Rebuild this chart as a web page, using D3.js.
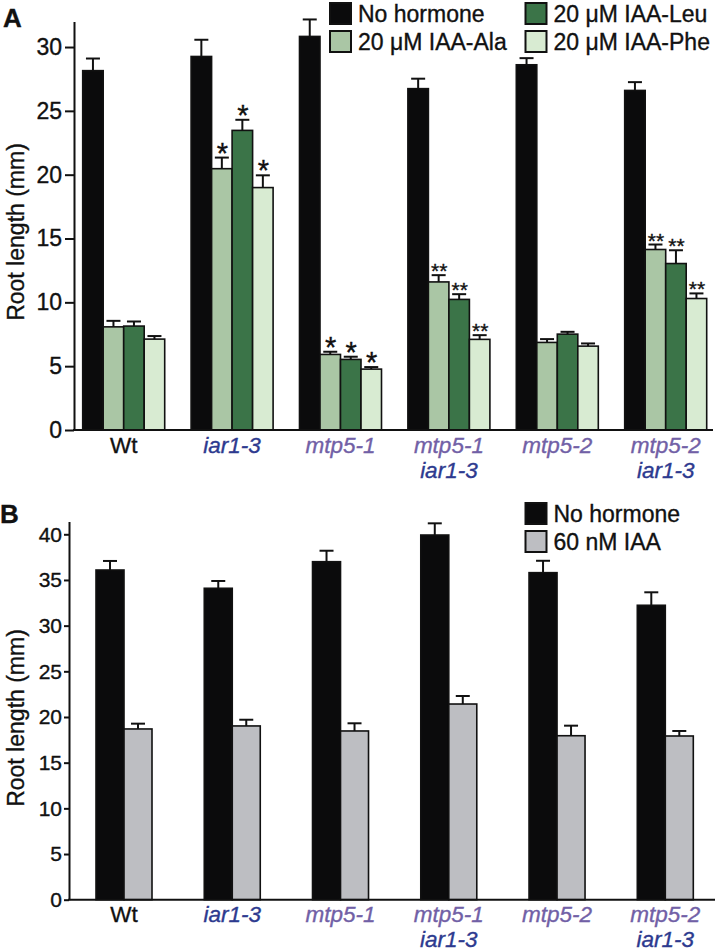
<!DOCTYPE html>
<html>
<head>
<meta charset="utf-8">
<script src="https://cdn.jsdelivr.net/npm/d3@7"></script>
<style>
  html, body { margin: 0; padding: 0; background: #fff; }
  svg { display: block; font-family: "Liberation Sans", Arial, sans-serif; }
  svg text { stroke-width: 0.35px; }
</style>
</head>
<body>
<svg id="chart" width="717" height="952"></svg>
<script>
// ---------- DATA ----------
const categories = ["Wt", "iar1-3", "mtp5-1", "mtp5-1 iar1-3", "mtp5-2", "mtp5-2 iar1-3"];
const categoryLines = [["Wt"], ["iar1-3"], ["mtp5-1"], ["mtp5-1", "iar1-3"], ["mtp5-2"], ["mtp5-2", "iar1-3"]];

// Panel A
const seriesA = ["No hormone", "20 μM IAA-Ala", "20 μM IAA-Leu", "20 μM IAA-Phe"];
const noHormoneA    = [28.15, 29.26, 30.83, 26.74, 28.61, 26.60];
const noHormoneAErr = [0.95, 1.31, 1.33, 0.78, 0.52, 0.65];
const alaA    = [8.08, 20.47, 5.92, 11.60, 6.86, 14.14];
const alaAErr = [0.47, 0.87, 0.21, 0.53, 0.26, 0.39];
const leuA    = [8.14, 23.47, 5.53, 10.23, 7.51, 13.04];
const leuAErr = [0.36, 0.83, 0.21, 0.41, 0.18, 1.04];
const pheA    = [7.12, 18.99, 4.77, 7.10, 6.57, 10.30];
const pheAErr = [0.24, 0.96, 0.16, 0.33, 0.21, 0.40];
const sigA    = ["", "*", "*", "**", "", "**"];   // applies to Ala, Leu, Phe
const ticksA  = [0, 5, 10, 15, 20, 25, 30];

// Panel B
const seriesB = ["No hormone", "60 nM IAA"];
const noHormoneB    = [36.09, 34.09, 37.00, 39.92, 35.80, 32.23];
const noHormoneBErr = [0.99, 0.80, 1.20, 1.28, 1.30, 1.42];
const iaaB    = [18.69, 19.02, 18.47, 21.42, 17.95, 17.92];
const iaaBErr = [0.58, 0.68, 0.84, 0.88, 1.10, 0.55];
const ticksB  = [0, 5, 10, 15, 20, 25, 30, 35, 40];

// ---------- STYLE ----------
const colorsA = ["#0b0b0c", "#aac6a5", "#3b7448", "#d8ebd2"];
const colorsB = ["#0b0b0c", "#bdbec2"];
const blue = "#2d3a8f", purple = "#7160a6";
function labelColor(t) { return t.startsWith("mtp5") ? purple : (t.startsWith("iar") ? blue : "#111"); }

const svg = d3.select("#chart");

function panel(opts) {
  const g = svg.append("g");
  const y = d3.scaleLinear().domain([0, opts.yMax]).range([opts.y0, opts.yTop]);
  const x = d3.scaleBand().domain(categories).range(opts.xBars).paddingInner(opts.padInner).paddingOuter(0);
  const xs = d3.scaleBand().domain(opts.series).range([0, x.bandwidth()]).padding(0);

  // y axis
  const ay = g.append("g").attr("transform", `translate(${opts.axisX},0)`)
    .call(d3.axisLeft(y).tickValues(opts.ticks).tickSize(opts.tickSize).tickPadding(opts.tickPad).tickSizeOuter(0));
  ay.select(".domain").attr("stroke", "#111").attr("stroke-width", 2);
  ay.selectAll(".tick line").attr("stroke", "#111").attr("stroke-width", 2);
  ay.selectAll(".tick text").attr("font-size", opts.tickFont).attr("fill", "#111").attr("stroke", "#111")
    .attr("font-family", "Liberation Sans, Arial, sans-serif");

  // bars
  opts.series.forEach((s, si) => {
    const vals = opts.values[si], errs = opts.errors[si];
    const bg = g.append("g");
    bg.selectAll("rect").data(categories).join("rect")
      .attr("x", c => x(c) + xs(s))
      .attr("y", (c, i) => y(vals[i]))
      .attr("width", xs.bandwidth())
      .attr("height", (c, i) => y(0) - y(vals[i]))
      .attr("fill", opts.colors[si])
      .attr("stroke", "#111").attr("stroke-width", 1.6);
    // error bars
    const eb = g.append("g").attr("stroke", "#111").attr("stroke-width", 2);
    categories.forEach((c, i) => {
      const cx = x(c) + xs(s) + xs.bandwidth() / 2;
      eb.append("line").attr("x1", cx).attr("x2", cx).attr("y1", y(vals[i])).attr("y2", y(vals[i] + errs[i]));
      eb.append("line").attr("x1", cx - opts.cap).attr("x2", cx + opts.cap)
        .attr("y1", y(vals[i] + errs[i])).attr("y2", y(vals[i] + errs[i]));
      if (opts.sig && si > 0 && opts.sig[i]) {
        const two = opts.sig[i].length > 1;
        g.append("text").attr("x", cx + 0.5).attr("y", y(vals[i] + errs[i]) + (two ? 3 : 5))
          .attr("text-anchor", "middle").attr("font-size", two ? 21 : 29)
          .attr("fill", "#111").attr("stroke", "#111").text(opts.sig[i]);
      }
    });
  });

  // x axis line
  g.append("line").attr("x1", opts.axisX - 1).attr("x2", opts.xEnd).attr("y1", y(0)).attr("y2", y(0))
    .attr("stroke", "#111").attr("stroke-width", 2);

  // category labels
  categories.forEach((c, i) => {
    const cx = x(c) + x.bandwidth() / 2;
    categoryLines[i].forEach((t, li) => {
      g.append("text").attr("x", cx).attr("y", opts.labelY + li * 25)
        .attr("text-anchor", "middle").attr("font-size", 22.5)
        .attr("font-style", t === "Wt" ? "normal" : "italic")
        .attr("fill", labelColor(t)).attr("stroke", labelColor(t)).text(t);
    });
  });

  // axis title
  g.append("text").attr("transform", `translate(23.5,${opts.titleY}) rotate(-90)`)
    .attr("text-anchor", "middle").attr("font-size", 23).attr("fill", "#111").attr("stroke", "#111")
    .text("Root length (mm)");

  // panel letter
  g.append("text").attr("x", opts.letterX).attr("y", opts.letterY).attr("font-size", 26)
    .attr("font-weight", "bold").attr("fill", "#111").attr("stroke", "#111").text(opts.letter);

  // legend
  opts.legend.forEach(L => {
    const lg = g.append("g");
    lg.append("rect").attr("x", L.x).attr("y", L.y).attr("width", 21).attr("height", 21)
      .attr("fill", opts.colors[L.i]).attr("stroke", "#111").attr("stroke-width", 2);
    lg.append("text").attr("x", L.x + 28).attr("y", L.y + 18.5).attr("font-size", 23)
      .attr("fill", "#111").attr("stroke", "#111").text(opts.series[L.i]);
  });
}

panel({
  series: seriesA, values: [noHormoneA, alaA, leuA, pheA], errors: [noHormoneAErr, alaAErr, leuAErr, pheAErr],
  colors: colorsA, sig: sigA, yMax: 32, y0: 430, yTop: 21.5, ticks: ticksA,
  xBars: [82.7, 706.7], padInner: 0.2435, axisX: 74, xEnd: 713, tickSize: 9, tickPad: 3, tickFont: 23,
  cap: 7, labelY: 453, titleY: 232, letter: "A", letterX: 3, letterY: 26.5,
  legend: [{i: 0, x: 330, y: 3}, {i: 1, x: 330, y: 31}, {i: 2, x: 525.5, y: 3}, {i: 3, x: 525.5, y: 31}]
});

panel({
  series: seriesB, values: [noHormoneB, iaaB], errors: [noHormoneBErr, iaaBErr],
  colors: colorsB, sig: null, yMax: 41.4, y0: 899.7, yTop: 521.5, ticks: ticksB,
  xBars: [96, 693.3], padInner: 0.4827, axisX: 69, xEnd: 715, tickSize: 5, tickPad: 2, tickFont: 21,
  cap: 7, labelY: 922, titleY: 718, letter: "B", letterX: 0, letterY: 522.5,
  legend: [{i: 0, x: 525.5, y: 503}, {i: 1, x: 525.5, y: 531}]
});
</script>
</body>
</html>
